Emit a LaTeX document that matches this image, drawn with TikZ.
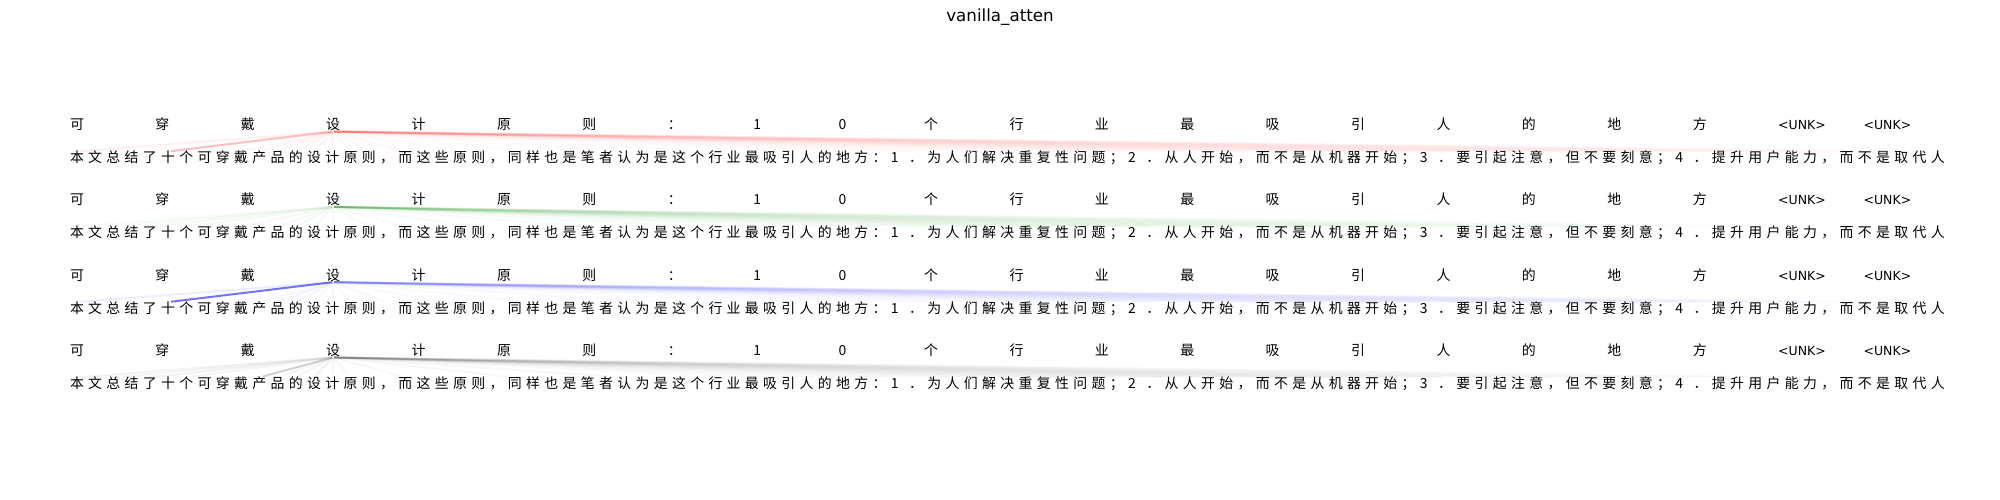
\documentclass[tikz,border=0pt]{standalone}
\usepackage{fontspec}
\setmainfont{DejaVu Sans}
\newfontfamily\cjk{Noto Sans CJK SC}
\tikzset{
  tok/.style={anchor=west, inner sep=0pt, outer sep=0pt, text height=11pt, text depth=2pt,
    font=\cjk\fontsize{13.9}{14}\selectfont},
  unk/.style={anchor=west, inner sep=0pt, outer sep=0pt, text height=11pt, text depth=2pt,
    font=\fontsize{12.5}{14}\selectfont},
  att/.style={line width=2pt, shorten >=3pt, shorten <=1pt},
  ttl/.style={anchor=base, inner sep=0pt, font=\fontsize{16.7}{18}\selectfont}
}
\begin{document}
\begin{tikzpicture}[x=1pt,y=-1pt]
\useasboundingbox (0,0) rectangle (2000,500);
\node[ttl] (title) at (1000,22) {vanilla\_atten};
\foreach \p in {1,2,3,4}{
  \pgfmathsetmacro\yt{125+75.3*(\p-1)}
  \pgfmathsetmacro\yb{\yt+33}
  \foreach \t [count=\i from 0] in {可,穿,戴,设,计,原,则,：,1,0,个,行,业,最,吸,引,人,的,地,方}{
    \node[tok] (t\p-\i) at ({70+85.409*\i},\yt) {\t};
  }
  \node[unk] (t\p-20) at ({70+85.409*20},\yt) {<UNK>};
  \node[unk] (t\p-21) at ({70+85.409*21},\yt) {<UNK>};
  \foreach \t [count=\j from 0] in {本,文,总,结,了,十,个,可,穿,戴,产,品,的,设,计,原,则,，,而,这,些,原,则,，,同,样,也,是,笔,者,认,为,是,这,个,行,业,最,吸,引,人,的,地,方,：,1,．,为,人,们,解,决,重,复,性,问,题,；,2,．,从,人,开,始,，,而,不,是,从,机,器,开,始,；,3,．,要,引,起,注,意,，,但,不,要,刻,意,；,4,．,提,升,用,户,能,力,，,而,不,是,取,代,人}{
    \node[tok] (b\p-\j) at ({70+18.2427*\j},\yb) {\t};
  }
}
% panel 1: red
\foreach \j/\a in {0/.06, 5/.26, 9/.03, 10/.04, 11/.04, 12/.05, 13/.05, 14/.05, 15/.04, 16/.03, 18/.03, 21/.025, 25/.025, 30/.025, 35/.025}
  \draw[att, draw=red, draw opacity=\a] (t1-3.south) -- (b1-\j.north);
\foreach \j in {40,43,...,102}{
  \pgfmathsetmacro\a{0.038*exp(-((\j-74)/24)^2)+0.008}
  \draw[att, draw=red, draw opacity=\a] (t1-3.south) -- (b1-\j.north);
}
% panel 2: green
\foreach \j/\a in {0/.04, 2/.04, 4/.04, 6/.04, 9/.04, 11/.04, 12/.05, 13/.05, 14/.04, 16/.04, 18/.03, 22/.03, 28/.03, 34/.03}
  \draw[att, draw=green!50!black, draw opacity=\a] (t2-3.south) -- (b2-\j.north);
\foreach \j in {38,41,...,96}{
  \pgfmathsetmacro\a{0.048*exp(-((\j-60)/22)^2)+0.007}
  \draw[att, draw=green!50!black, draw opacity=\a] (t2-3.south) -- (b2-\j.north);
}
% panel 3: blue
\foreach \j/\a in {0/.07, 5/.55, 10/.03, 11/.04, 12/.04, 13/.04, 14/.04, 15/.03, 17/.03, 20/.025, 25/.025, 32/.025}
  \draw[att, draw=blue, draw opacity=\a] (t3-3.south) -- (b3-\j.north);
\foreach \j in {38,41,...,100}{
  \pgfmathsetmacro\a{0.042*exp(-((\j-74)/22)^2)+0.007}
  \draw[att, draw=blue, draw opacity=\a] (t3-3.south) -- (b3-\j.north);
}
% panel 4: black
\foreach \j/\a in {0/.05, 2/.04, 4/.05, 6/.04, 10/.18, 11/.04, 12/.04, 13/.05, 14/.04, 15/.03, 18/.03, 24/.03, 30/.03}
  \draw[att, draw=black, draw opacity=\a] (t4-3.south) -- (b4-\j.north);
\foreach \j in {36,39,...,96}{
  \pgfmathsetmacro\a{0.038*exp(-((\j-62)/22)^2)+0.007}
  \draw[att, draw=black, draw opacity=\a] (t4-3.south) -- (b4-\j.north);
}
\end{tikzpicture}
\end{document}
